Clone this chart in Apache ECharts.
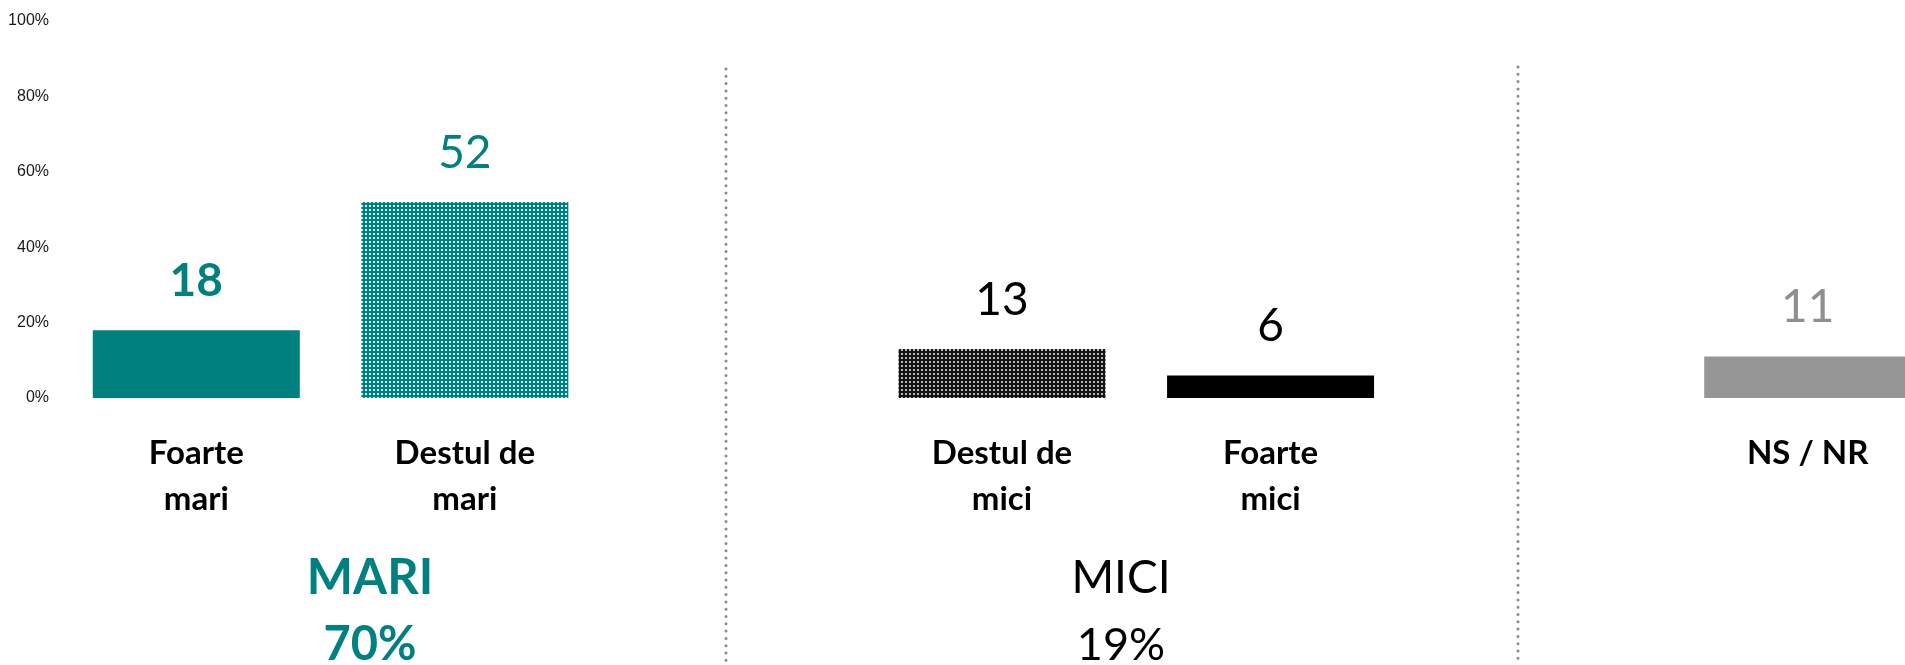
<!DOCTYPE html>
<html>
<head>
<meta charset="utf-8">
<script src="https://cdn.jsdelivr.net/npm/echarts@6/dist/echarts.min.js"></script>
<style>
* { margin: 0; padding: 0; }
#chart { width: 1905px; height: 665px; background: #fff; }
</style>
</head>
<body>
<div id="chart"></div>
<script>
// categorii (sloturile goale separa grupurile)
const categories = ['Foarte\nmari', 'Destul de\nmari', '', 'Destul de\nmici', 'Foarte\nmici', '', 'NS / NR'];
const values = [18, 52, null, 13, 6, null, 11];
const yTicks = [0, 20, 40, 60, 80, 100];
const groupNames = ['MARI', 'MICI'];
const groupTotals = [70, 19];

const TEAL = '#00807f';

function pattern(bg, dot) {
  const c = document.createElement('canvas');
  c.width = 4; c.height = 4;
  const ctx = c.getContext('2d');
  ctx.fillStyle = bg;
  ctx.fillRect(0, 0, 4, 4);
  ctx.fillStyle = dot;
  ctx.fillRect(1, 1, 2, 2);
  return { image: c, repeat: 'repeat' };
}

// stil pentru fiecare bara
const barStyle = [
  { color: TEAL, label: TEAL, weight: 'bold' },
  { color: pattern(TEAL, '#d4ebe9'), label: TEAL, weight: 'normal' },
  null,
  { color: pattern('#141414', '#b8b8b8'), label: '#000', weight: 'normal' },
  { color: '#000', label: '#000', weight: 'normal' },
  null,
  { color: '#969696', label: '#8f8f8f', weight: 'normal' }
];

const seriesData = values.map((v, i) => {
  if (v == null) return null;
  const s = barStyle[i];
  return {
    value: v,
    itemStyle: { color: s.color },
    label: { color: s.label, fontWeight: s.weight }
  };
});

const chart = echarts.init(document.getElementById('chart'));

const option = {
  animation: false,
  grid: { left: 62, top: 21, width: 1880, bottom: 267, containLabel: false, outerBoundsMode: 'none' },
  xAxis: {
    type: 'category',
    data: categories,
    axisLine: { show: false },
    axisTick: { show: false },
    axisLabel: {
      interval: 0,
      margin: 32,
      color: '#000',
      fontFamily: 'Lato',
      fontWeight: 'bold',
      fontSize: 33,
      lineHeight: 46
    }
  },
  yAxis: {
    type: 'value',
    min: yTicks[0],
    max: yTicks[yTicks.length - 1],
    interval: yTicks[1] - yTicks[0],
    splitLine: { show: false },
    axisLine: { show: false },
    axisTick: { show: false },
    axisLabel: {
      formatter: '{value}%',
      margin: 13,
      color: '#1a1a1a',
      fontFamily: 'Liberation Sans',
      fontSize: 16
    }
  },
  series: [{
    type: 'bar',
    data: seriesData,
    barWidth: 207,
    label: {
      show: true,
      position: 'top',
      distance: 26,
      fontFamily: 'Lato',
      fontSize: 46
    }
  }],
  graphic: [
    // separatoare punctate
    { type: 'line', shape: { x1: 726, y1: 69, x2: 726, y2: 665 },
      style: { stroke: '#8a8a8a', lineWidth: 3, lineDash: [0, 7.3], lineCap: 'round' } },
    { type: 'line', shape: { x1: 1518, y1: 67, x2: 1518, y2: 665 },
      style: { stroke: '#8a8a8a', lineWidth: 3, lineDash: [0, 7.3], lineCap: 'round' } },
    // etichete de grup
    { type: 'text', x: 370, y: 578,
      style: { text: groupNames[0], fill: TEAL, font: 'bold 49px Lato', textAlign: 'center', textVerticalAlign: 'middle' } },
    { type: 'text', x: 370, y: 645,
      style: { text: groupTotals[0] + '%', fill: TEAL, font: 'bold 47px Lato', textAlign: 'center', textVerticalAlign: 'middle' } },
    { type: 'text', x: 1121, y: 578,
      style: { text: groupNames[1], fill: '#000', font: '46px Lato', textAlign: 'center', textVerticalAlign: 'middle' } },
    { type: 'text', x: 1121, y: 645,
      style: { text: groupTotals[1] + '%', fill: '#000', font: '45px Lato', textAlign: 'center', textVerticalAlign: 'middle' } }
  ]
};

chart.setOption(option);
</script>
</body>
</html>
